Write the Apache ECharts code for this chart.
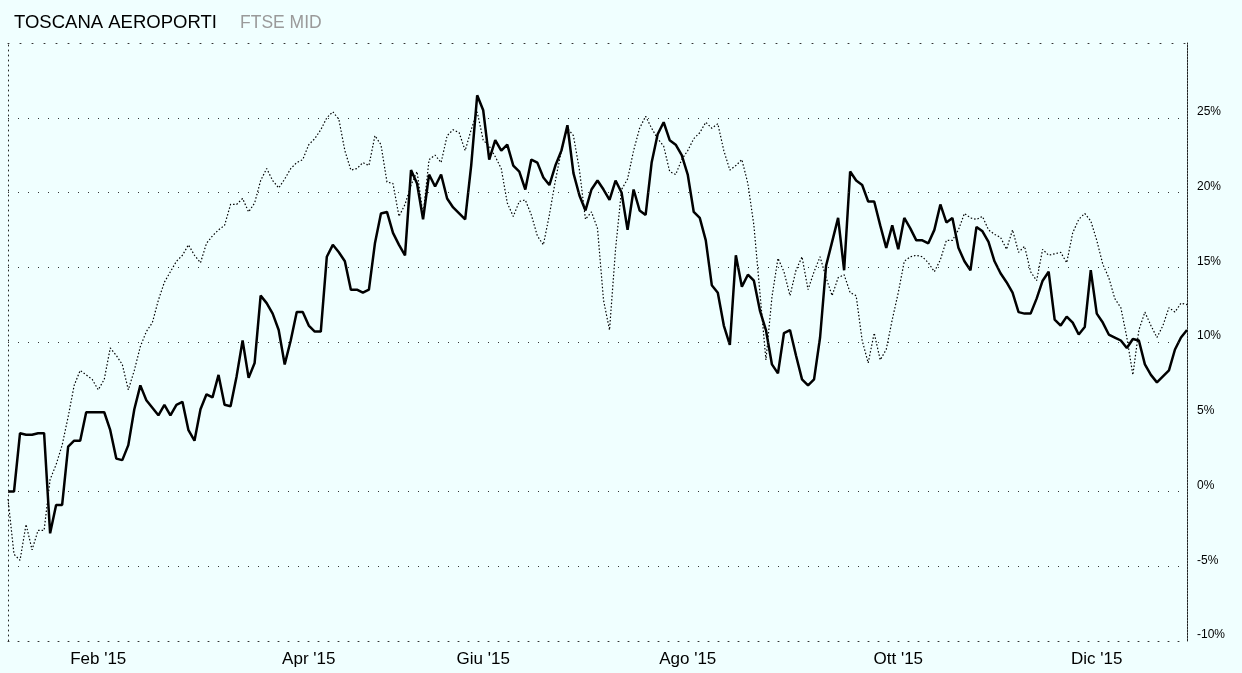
<!DOCTYPE html>
<html style="height:100%;">
<head>
	<meta charset="utf-8" />
	<title>TOSCANA AEROPORTI - FTSE MID</title>
	<script type="text/javascript" src="https://cdn.jsdelivr.net/npm/echarts@6/dist/echarts.min.js"></script>
</head>
<body style="margin:0;padding:0;height:100%;background:#f0ffff;">
	<div id="chart" style="width:1242px;height:673px;"></div>
	<script type="text/javascript">
		const titleMain = 'TOSCANA AEROPORTI';
		const titleSub = 'FTSE MID';

		// etichette dei mesi: [indice, testo]
		const monthTicks = [[15, "Feb '15"], [50, "Apr '15"], [79, "Giu '15"], [113, "Ago '15"], [148, "Ott '15"], [181, "Dic '15"]];

		// livelli delle linee orizzontali (il 5% manca nell'originale)
		const gridLevels = [-5, 0, 10, 15, 20, 25];

		// performance % (linea spessa)
		const toscana = [
			0.0, 0.0, 3.9, 3.8, 3.8, 3.9, 3.9, -2.8, -0.9, -0.9,
			3.0, 3.4, 3.4, 5.3, 5.3, 5.3, 5.3, 4.1, 2.2, 2.1,
			3.1, 5.5, 7.1, 6.1, 5.6, 5.1, 5.8, 5.1, 5.8, 6.0,
			4.1, 3.4, 5.5, 6.5, 6.3, 7.8, 5.8, 5.7, 7.7, 10.1,
			7.6, 8.6, 13.1, 12.6, 11.9, 10.8, 8.5, 10.1, 12.0, 12.0,
			11.1, 10.7, 10.7, 15.7, 16.5, 16.0, 15.4, 13.5, 13.5, 13.3,
			13.5, 16.6, 18.6, 18.7, 17.3, 16.5, 15.8, 21.5, 20.6, 18.2,
			21.2, 20.4, 21.2, 19.6, 19.0, 18.6, 18.2, 21.8, 26.5, 25.5,
			22.2, 23.5, 22.8, 23.2, 21.8, 21.4, 20.2, 22.2, 22.0, 21.0,
			20.5, 21.8, 22.8, 24.5, 21.3, 19.8, 18.8, 20.2, 20.8, 20.2,
			19.5, 20.8, 20.0, 17.5, 20.2, 18.8, 18.5, 22.0, 23.9, 24.7,
			23.5, 23.2, 22.5, 21.2, 18.7, 18.3, 16.8, 13.8, 13.3, 11.1,
			9.8, 15.8, 13.7, 14.5, 14.1, 12.1, 10.8, 8.5, 7.9, 10.6,
			10.8, 9.1, 7.5, 7.1, 7.5, 10.3, 15.1, 16.7, 18.3, 14.8,
			21.4, 20.8, 20.5, 19.4, 19.4, 17.8, 16.3, 17.8, 16.2, 18.3,
			17.6, 16.8, 16.8, 16.6, 17.5, 19.2, 18.0, 18.3, 16.3, 15.4,
			14.8, 17.7, 17.4, 16.7, 15.4, 14.6, 14.0, 13.3, 12.0, 11.9,
			11.9, 12.9, 14.1, 14.7, 11.5, 11.1, 11.7, 11.3, 10.5, 11.0,
			14.8, 11.9, 11.3, 10.5, 10.3, 10.1, 9.6, 10.2, 10.1, 8.5,
			7.8, 7.3, 7.7, 8.1, 9.5, 10.3, 10.8
		];

		// indice FTSE MID % (linea punteggiata)
		const ftseMid = [
			-0.5, -4.2, -4.6, -2.2, -3.9, -2.6, -2.6, 0.8, 1.8, 3.1,
			5.0, 7.1, 8.1, 7.8, 7.5, 6.8, 7.5, 9.6, 9.1, 8.5,
			6.8, 8.1, 9.7, 10.7, 11.3, 12.8, 14.0, 14.7, 15.4, 15.8,
			16.5, 15.8, 15.3, 16.6, 17.1, 17.5, 17.8, 19.2, 19.2, 19.6,
			18.7, 19.3, 20.8, 21.6, 20.8, 20.3, 20.9, 21.6, 22.0, 22.2,
			23.2, 23.6, 24.2, 25.0, 25.4, 24.9, 22.8, 21.5, 21.6, 22.0,
			21.8, 23.8, 23.2, 20.7, 20.6, 18.4, 19.2, 20.5, 21.4, 18.5,
			22.2, 22.5, 22.0, 23.8, 24.2, 24.0, 22.8, 24.2, 25.4, 23.5,
			23.1, 22.4, 21.6, 19.3, 18.4, 19.4, 19.5, 18.5, 17.1, 16.5,
			18.5, 20.8, 22.8, 24.3, 23.8, 21.5, 18.2, 18.7, 17.6, 12.8,
			10.8, 16.2, 20.2, 20.9, 22.8, 24.3, 25.1, 24.3, 23.6, 23.1,
			21.4, 21.2, 22.2, 22.8, 23.6, 24.0, 24.7, 24.3, 24.6, 22.8,
			21.5, 21.8, 22.2, 20.6, 17.8, 13.3, 8.8, 13.0, 15.6, 14.7,
			13.1, 14.8, 15.7, 13.5, 14.7, 15.7, 14.3, 13.1, 14.3, 14.5,
			13.3, 13.1, 10.1, 8.6, 10.6, 8.8, 9.5, 11.5, 13.3, 15.4,
			15.7, 15.8, 15.7, 15.3, 14.7, 15.5, 16.8, 16.8, 17.5, 18.6,
			18.3, 18.2, 18.4, 17.5, 17.2, 17.0, 16.2, 17.5, 16.0, 16.4,
			14.7, 14.1, 16.2, 15.8, 15.9, 16.0, 15.3, 17.3, 18.2, 18.6,
			18.1, 16.8, 15.2, 14.3, 12.9, 12.3, 10.3, 7.8, 10.8, 12.0,
			11.1, 10.3, 11.1, 12.3, 12.0, 12.6, 12.5
		];

		const monthLabel = {};
		monthTicks.forEach(function (t) { monthLabel[t[0]] = t[1]; });
		const categories = toscana.map(function (v, i) { return String(i); });

		const chart = echarts.init(document.getElementById('chart'));
		chart.setOption({
			animation: false,
			backgroundColor: '#f0ffff',
			title: [{
				left: 9,
				top: 8,
				text: titleMain,
				textStyle: { fontFamily: 'Liberation Sans', fontSize: 18.5, fontWeight: 'normal', color: '#000' }
			}, {
				left: 235,
				top: 9,
				text: titleSub,
				textStyle: { fontFamily: 'Liberation Sans', fontSize: 17.5, fontWeight: 'normal', color: '#9a9a9a' }
			}],
			grid: { left: 8, right: 55, top: 43, bottom: 32 },
			xAxis: [{
				type: 'category',
				boundaryGap: false,
				data: categories,
				axisTick: { show: false },
				axisLine: { show: true, onZero: false, lineStyle: { color: '#333', type: [1, 9], width: 1 } },
				axisLabel: {
					interval: function (i) { return monthLabel[i] !== undefined; },
					formatter: function (v, i) { return monthLabel[i] || ''; },
					color: '#000',
					fontFamily: 'Liberation Sans',
					fontSize: 17,
					margin: 10
				},
				splitLine: { show: false }
			}, {
				type: 'category',
				position: 'top',
				boundaryGap: false,
				data: categories,
				axisTick: { show: false },
				axisLabel: { show: false },
				axisLine: { show: true, onZero: false, lineStyle: { color: '#333', type: [1, 11], width: 1 } }
			}],
			yAxis: [{
				type: 'value',
				position: 'right',
				min: -10,
				max: 30,
				interval: 5,
				axisTick: { show: false },
				axisLine: { show: true, onZero: false, lineStyle: { color: '#222', type: [2, 1], width: 1 } },
				axisLabel: {
					formatter: function (v) { return v === 30 ? '' : v + '%'; },
					color: '#000',
					fontFamily: 'Liberation Sans',
					fontSize: 12,
					verticalAlign: 'bottom',
					margin: 10
				},
				splitLine: { show: false }
			}, {
				type: 'value',
				position: 'left',
				min: -10,
				max: 30,
				interval: 5,
				axisTick: { show: false },
				axisLabel: { show: false },
				splitLine: { show: false },
				axisLine: { show: true, onZero: false, lineStyle: { color: '#222', type: [1, 4], width: 1 } }
			}],
			series: [{
				name: titleSub,
				type: 'line',
				data: ftseMid,
				symbol: 'none',
				lineStyle: { color: '#000', width: 1.2, type: [1.5, 2] },
				markLine: {
					silent: true,
					symbol: 'none',
					label: { show: false },
					lineStyle: { color: '#333', type: [1, 9], width: 1 },
					data: gridLevels.map(function (v) { return { yAxis: v }; })
				},
				z: 2
			}, {
				name: titleMain,
				type: 'line',
				data: toscana,
				symbol: 'none',
				lineStyle: { color: '#000', width: 2.5 },
				z: 3
			}]
		});
	</script>
</body>
</html>
